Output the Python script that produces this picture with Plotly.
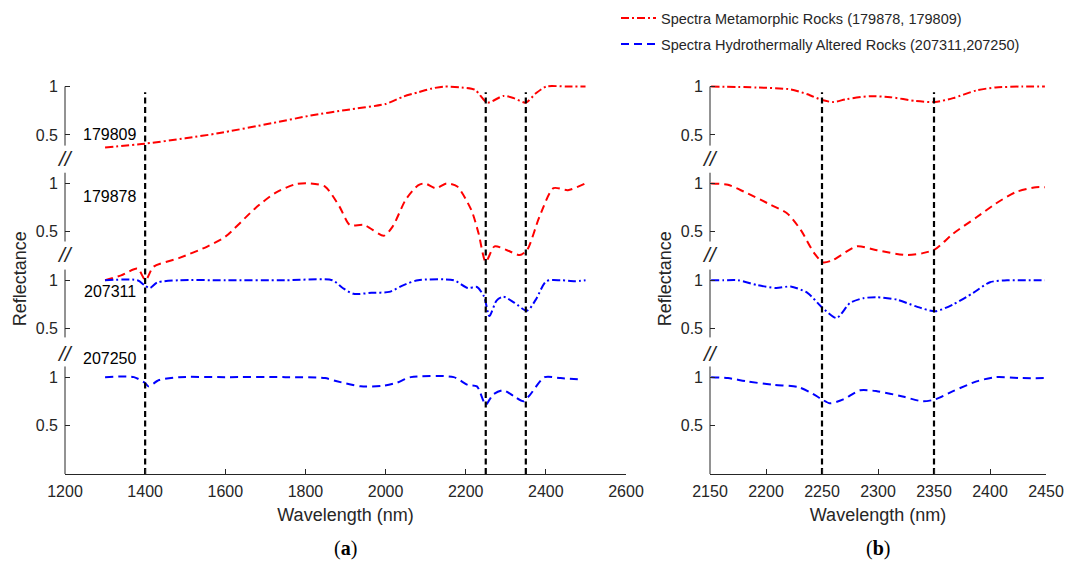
import plotly.graph_objects as go

# ---- spectra, panel (a): 1300-2500 nm -------------------------------------
wl_a_179809 = [1300, 1400, 1500, 1582, 1715, 1813, 1902, 2000, 2045, 2081, 2116, 2147,
               2190, 2223, 2254, 2294, 2320, 2350, 2375, 2401, 2450, 2499]
r_a_179809 = [0.37, 0.41, 0.465, 0.517, 0.62, 0.70, 0.758, 0.82, 0.897, 0.94, 0.98, 1.0,
              0.99, 0.966, 0.834, 0.903, 0.88, 0.834, 0.93, 1.0, 1.0, 1.0]

wl_a_179878 = [1300, 1340, 1381, 1401, 1421, 1484, 1555, 1600, 1675, 1724, 1778, 1813,
               1849, 1885, 1911, 1947, 1996, 2018, 2050, 2081, 2098, 2125, 2152, 2179,
               2214, 2232, 2250, 2272, 2303, 2335, 2353, 2384, 2419, 2455, 2499]
r_a_179878 = [0.0, 0.05, 0.12, 0.0, 0.14, 0.228, 0.348, 0.45, 0.744, 0.90, 0.995, 1.0,
              0.967, 0.76, 0.57, 0.57, 0.46, 0.556, 0.83, 0.98, 1.0, 0.95, 1.0, 0.967,
              0.725, 0.485, 0.19, 0.35, 0.31, 0.26, 0.31, 0.655, 0.95, 0.93, 1.0]

wl_a_207311 = [1300, 1381, 1400, 1412, 1430, 1484, 1600, 1750, 1867, 1893, 1920, 1965,
               2009, 2045, 2081, 2170, 2205, 2228, 2246, 2259, 2277, 2294, 2321, 2353,
               2375, 2401, 2437, 2473, 2499]
r_a_207311 = [1.0, 1.0, 0.943, 0.92, 0.977, 1.0, 1.0, 1.0, 1.0, 0.92, 0.86, 0.87,
              0.88, 0.95, 1.0, 1.0, 0.92, 0.93, 0.83, 0.63, 0.79, 0.83, 0.77, 0.685,
              0.80, 0.99, 1.0, 0.99, 1.0]

wl_a_207250 = [1300, 1372, 1400, 1408, 1435, 1484, 1600, 1750, 1849, 1876, 1938, 1992,
               2027, 2063, 2170, 2205, 2228, 2250, 2268, 2294, 2321, 2344, 2361, 2397,
               2437, 2490]
r_a_207250 = [1.0, 1.0, 0.94, 0.905, 0.97, 1.0, 1.0, 1.0, 0.99, 0.96, 0.905, 0.91,
              0.94, 1.0, 1.0, 0.92, 0.905, 0.716, 0.82, 0.865, 0.80, 0.75, 0.82, 1.0,
              0.99, 0.975]

# ---- spectra, panel (b): 2150-2450 nm -------------------------------------
wl_b_179809 = [2151, 2192, 2222, 2237, 2250, 2260, 2272, 2293, 2311, 2334, 2351, 2367,
               2388, 2405, 2429, 2449]
r_b_179809 = [1.0, 0.99, 0.97, 0.92, 0.86, 0.84, 0.87, 0.90, 0.89, 0.85, 0.84, 0.88,
              0.96, 0.99, 1.0, 1.0]

wl_b_179878 = [2151, 2166, 2180, 2204, 2219, 2231, 2243, 2251, 2260, 2281, 2299, 2325,
               2340, 2351, 2367, 2388, 2405, 2423, 2441, 2449]
r_b_179878 = [1.0, 0.985, 0.916, 0.78, 0.69, 0.52, 0.28, 0.184, 0.21, 0.35, 0.31, 0.26,
              0.28, 0.32, 0.48, 0.65, 0.79, 0.91, 0.96, 0.96]

wl_b_207311 = [2151, 2162, 2175, 2192, 2209, 2222, 2237, 2250, 2263, 2275, 2287, 2299,
               2317, 2334, 2351, 2367, 2385, 2400, 2417, 2432, 2449]
r_b_207311 = [1.0, 1.0, 1.0, 0.95, 0.92, 0.935, 0.87, 0.72, 0.61, 0.765, 0.815, 0.825,
              0.80, 0.73, 0.68, 0.75, 0.87, 0.98, 1.0, 1.0, 1.0]

wl_b_207250 = [2151, 2166, 2183, 2207, 2228, 2240, 2250, 2257, 2269, 2284, 2299, 2322,
               2340, 2351, 2367, 2388, 2405, 2429, 2449]
r_b_207250 = [1.0, 0.99, 0.956, 0.92, 0.90, 0.84, 0.77, 0.73, 0.77, 0.864, 0.855, 0.80,
              0.75, 0.77, 0.855, 0.956, 1.0, 0.99, 0.99]

# vertical offset of each stacked spectrum (one unit per strip)
offset_179809 = 3
offset_179878 = 2
offset_207311 = 1
offset_207250 = 0

# absorption features marked with vertical lines
features_a = [1400, 2250, 2350]
features_b = [2250, 2350]

ticks_a = [1200, 1400, 1600, 1800, 2000, 2200, 2400, 2600]
ticks_b = [2150, 2200, 2250, 2300, 2350, 2400, 2450]
ytick_vals = [0.5, 1, 1.5, 2, 2.5, 3, 3.5, 4]
ytick_text = ["0.5", "1", "0.5", "1", "0.5", "1", "0.5", "1"]

sample_names = ["179809", "179878", "207311", "207250"]
sample_label_y = [3.50, 2.86, 1.88, 1.19]

legend_red = "Spectra Metamorphic Rocks (179878, 179809)"
legend_blue = "Spectra Hydrothermally Altered Rocks (207311,207250)"

RED = "#ff0000"
BLUE = "#0000ff"
AX = "#262626"
DASHDOT = "8px,3px,2px,3px"
DASH = "8px,5px"
FONT = "Liberation Sans, Arial, sans-serif"

fig = go.Figure()


def add_spec(wl, r, off, color, dash, xa, ya, legend=None, name=None):
    fig.add_trace(go.Scatter(
        x=wl, y=[v + off for v in r], mode="lines",
        line=dict(color=color, width=2, dash=dash, shape="spline", smoothing=0.7),
        xaxis=xa, yaxis=ya, name=name or "", showlegend=legend is not None,
        legend=legend or "legend", hoverinfo="skip"))


add_spec(wl_a_179809, r_a_179809, offset_179809, RED, DASHDOT, "x", "y",
         legend="legend", name=legend_red)
add_spec(wl_a_179878, r_a_179878, offset_179878, RED, DASH, "x", "y")
add_spec(wl_a_207311, r_a_207311, offset_207311, BLUE, DASHDOT, "x", "y")
add_spec(wl_a_207250, r_a_207250, offset_207250, BLUE, DASH, "x", "y",
         legend="legend2", name=legend_blue)

add_spec(wl_b_179809, r_b_179809, offset_179809, RED, DASHDOT, "x2", "y2")
add_spec(wl_b_179878, r_b_179878, offset_179878, RED, DASH, "x2", "y2")
add_spec(wl_b_207311, r_b_207311, offset_207311, BLUE, DASHDOT, "x2", "y2")
add_spec(wl_b_207250, r_b_207250, offset_207250, BLUE, DASH, "x2", "y2")

# feature lines
for feats, xa, ya in ((features_a, "x", "y"), (features_b, "x2", "y2")):
    for f in feats:
        fig.add_trace(go.Scatter(
            x=[f, f], y=[0, 3.94], mode="lines",
            line=dict(color="black", width=2.2, dash="6px,3.5px"),
            xaxis=xa, yaxis=ya, showlegend=False, hoverinfo="skip"))

# broken y axis: one line segment per strip, "//" marks in the gaps
segments = [(0.0, 1.11), (1.41, 2.11), (2.40, 3.11), (3.39, 4.0)]
break_marks = [1.24, 2.27, 3.26]
for xr, yr in (("x domain", "y"), ("x2 domain", "y2")):
    for y0, y1 in segments:
        fig.add_shape(type="line", xref=xr, yref=yr, x0=0, x1=0, y0=y0, y1=y1,
                      line=dict(color=AX, width=1))
    for yb in break_marks:
        fig.add_annotation(xref=xr, yref=yr, x=0, y=yb, text="<i>//</i>", showarrow=False,
                           font=dict(family=FONT, size=21, color=AX),
                           xanchor="center", yanchor="middle")

for name, yl in zip(sample_names, sample_label_y):
    fig.add_annotation(xref="x", yref="y", x=1383, y=yl, text=name, showarrow=False,
                       xanchor="right", yanchor="middle",
                       font=dict(family=FONT, size=16, color="black"))

for txt, xp in (("(<b>a</b>)", 345 / 1067), ("(<b>b</b>)", 878 / 1067)):
    fig.add_annotation(xref="paper", yref="paper", x=xp, y=1 - 548 / 561, text=txt,
                       showarrow=False, xanchor="center", yanchor="middle",
                       font=dict(family="Liberation Serif, serif", size=20, color="black"))

xcommon = dict(showgrid=False, zeroline=False, showline=True, linecolor=AX, linewidth=1,
               ticks="inside", ticklen=5, tickcolor=AX, ticklabelstandoff=3,
               automargin=False,
               tickfont=dict(family=FONT, size=16, color=AX),
               title=dict(text="Wavelength (nm)", font=dict(family=FONT, size=18, color=AX),
                          standoff=9))
ycommon = dict(range=[0, 4.03], showgrid=False, zeroline=False, showline=False,
               ticks="inside", ticklen=5, tickcolor=AX, tickvals=ytick_vals,
               ticktext=ytick_text, ticklabelstandoff=6, automargin=False,
               tickfont=dict(family=FONT, size=16, color=AX),
               title=dict(text="Reflectance", font=dict(family=FONT, size=18, color=AX),
                          standoff=4))

ydom = [87 / 561, 477.4 / 561]
fig.update_layout(
    width=1067, height=561, margin=dict(l=0, r=0, t=0, b=0),
    paper_bgcolor="white", plot_bgcolor="white",
    xaxis=dict(xcommon, domain=[65 / 1067, 626 / 1067], range=[1200, 2600],
               tickvals=ticks_a, anchor="y"),
    yaxis=dict(ycommon, domain=ydom, anchor="x"),
    xaxis2=dict(xcommon, domain=[710 / 1067, 1046 / 1067], range=[2150, 2450],
                tickvals=ticks_b, anchor="y2"),
    yaxis2=dict(ycommon, domain=ydom, anchor="x2"),
    legend=dict(x=616 / 1067, y=1 - 18 / 561, xanchor="left", yanchor="middle",
                itemwidth=35, bgcolor="rgba(0,0,0,0)",
                font=dict(family=FONT, size=14.5, color=AX)),
    legend2=dict(x=616 / 1067, y=1 - 44 / 561, xanchor="left", yanchor="middle",
                 itemwidth=35, bgcolor="rgba(0,0,0,0)",
                 font=dict(family=FONT, size=14.5, color=AX)),
)

fig.write_html("out.html")
